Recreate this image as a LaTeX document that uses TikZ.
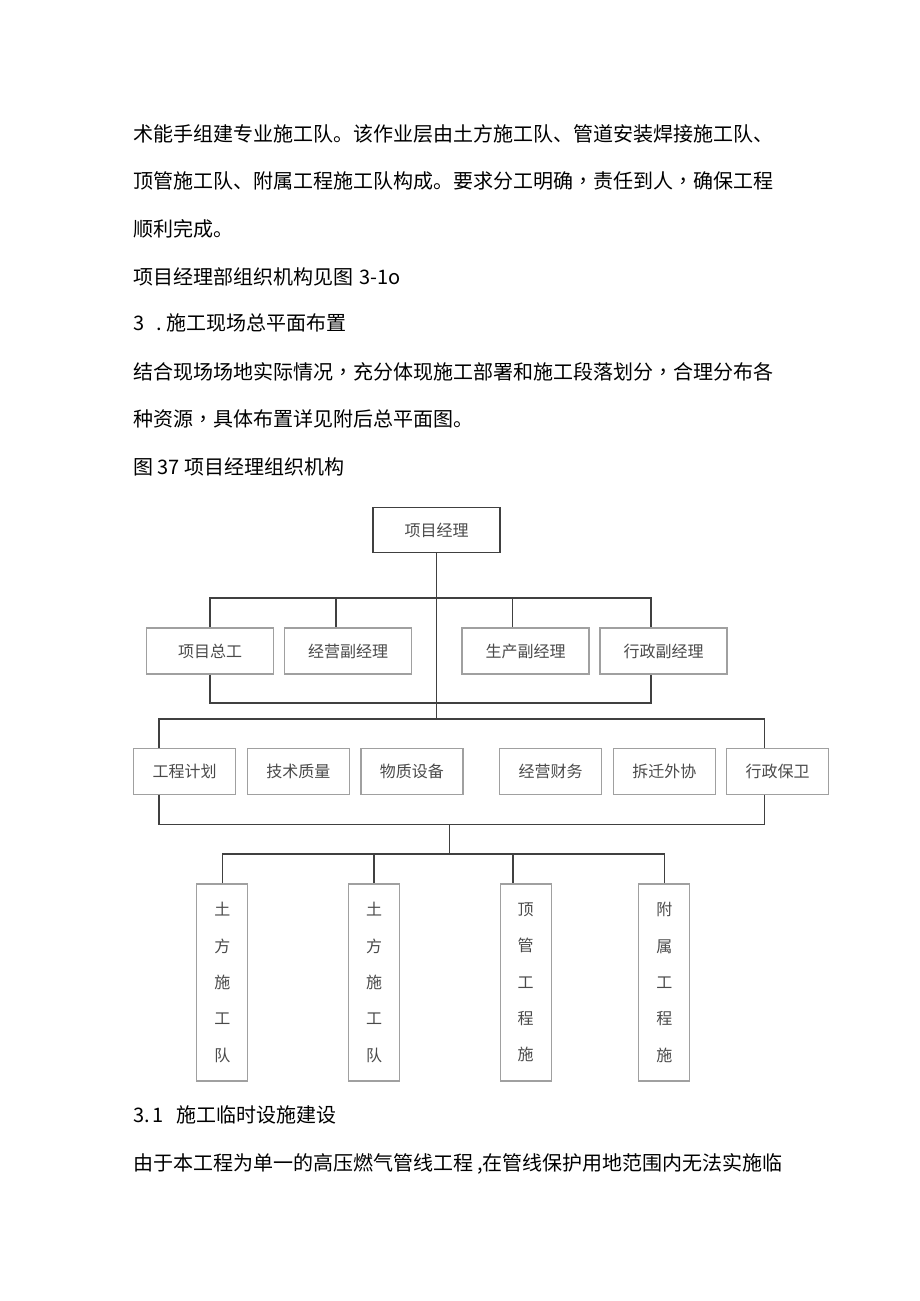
\documentclass[tikz,border=0pt]{standalone}
\usepackage{fontspec}
\newfontfamily\cjk{Noto Sans CJK SC}
\newfontfamily\tcf{Noto Sans CJK TC}
\newcommand{\cm}{{\tcf ，}}
\definecolor{linec}{HTML}{404040}
\definecolor{boxc}{HTML}{A0A0A0}
\definecolor{txtc}{HTML}{4A4A4A}
\begin{document}
\begin{tikzpicture}[x=1pt,y=-1pt,
  body/.style={anchor=base west, inner sep=0pt, font=\cjk\fontsize{20}{24}\selectfont, text=black},
  hbox/.style={draw=boxc, line width=1.2pt, inner sep=0pt, minimum height=46pt, font=\cjk\fontsize{16}{18}\selectfont, text=txtc},
  vbox/.style={draw=boxc, line width=1.2pt, inner sep=0pt, minimum width=51pt, minimum height=197pt, align=center, font=\cjk\fontsize{16}{36.3}\selectfont, text=txtc},
  conn/.style={draw=linec, line width=1.5pt},
]
\useasboundingbox (0,0) rectangle (920,1301);

% body text
\node[body] (l1) at (133,141.6) {术能手组建专业施工队。该作业层由土方施工队、管道安装焊接施工队、};
\node[body] (l2) at (133,188.6) {顶管施工队、附属工程施工队构成。要求分工明确\cm 责任到人\cm 确保工程};
\node[body] (l3) at (133,236.6) {顺利完成。};
\node[body] (l4) at (133,284.3) {项目经理部组织机构见图\hspace{6pt}3-1o};
\node[body] (l5) at (133,330.6) {3\hspace{12pt}.\hspace{5pt}施工现场总平面布置};
\node[body] (l6) at (133,379.3) {结合现场场地实际情况\cm 充分体现施工部署和施工段落划分\cm 合理分布各};
\node[body] (l7) at (133,426.6) {种资源\cm 具体布置详见附后总平面图。};
\node[body] (l8) at (133,474.3) {图 37 项目经理组织机构};
\node[body] (l9) at (133,1122.6) {3.\hspace{3pt}1\hspace{13pt}施工临时设施建设};
\node[body] (l10) at (133,1170.6) {由于本工程为单一的高压燃气管线工程\hspace{4pt},在管线保护用地范围内无法实施临};

% chart nodes
\node[hbox, draw=linec, line width=1.5pt, minimum width=127pt, minimum height=45pt] (pm) at (436.7,530) {项目经理};

\node[hbox, minimum width=127pt] (gz) at (210,651) {项目总工};
\node[hbox, minimum width=127pt] (jy) at (348,651) {经营副经理};
\node[hbox, minimum width=127pt] (sc) at (525.5,651) {生产副经理};
\node[hbox, minimum width=127pt] (xz) at (663.5,651) {行政副经理};

\node[hbox, minimum width=102pt] (gc) at (184.5,771.3) {工程计划};
\node[hbox, minimum width=102pt] (js) at (298.3,771.3) {技术质量};
\node[hbox, minimum width=102pt] (wz) at (411.9,771.3) {物质设备};
\node[hbox, minimum width=102pt] (cw) at (550.6,771.3) {经营财务};
\node[hbox, minimum width=102pt] (cq) at (664.3,771.3) {拆迁外协};
\node[hbox, minimum width=102pt] (bw) at (777.5,771.3) {行政保卫};

\node[vbox] (t1) at (222.3,982.5) {土\\方\\施\\工\\队};
\node[vbox] (t2) at (374,982.5) {土\\方\\施\\工\\队};
\node[vbox] (dg) at (525.7,982.5) {顶\\管\\工\\程\\施};
\node[vbox] (fs) at (664.3,982.5) {附\\属\\工\\程\\施};

% connectors
\coordinate (j2) at (436.7,719);
\coordinate (b1l) at (210,598);
\coordinate (b1r) at (651,598);
\coordinate (c12) at (336,598);
\coordinate (c13) at (512.5,598);
\coordinate (b1bl) at (210,703);
\coordinate (b1br) at (651,703);
\coordinate (b2l) at (159,719);
\coordinate (b2r) at (764.5,719);
\coordinate (b3l) at (159,824.3);
\coordinate (b3r) at (764.5,824.3);
\coordinate (j3) at (449.7,824.3);
\coordinate (j4) at (449.7,854);
\coordinate (b4l) at (222.3,854);
\coordinate (b4r) at (664.3,854);
\coordinate (c42) at (374,854);
\coordinate (c43) at (513,854);

\draw[conn] (pm.south) -- (j2);
\draw[conn] (gz.north) -- (b1l) -- (b1r) -- (b1r |- xz.north);
\draw[conn] (c12) -- (c12 |- jy.north);
\draw[conn] (c13) -- (c13 |- sc.north);
\draw[conn] (gz.south) -- (b1bl) -- (b1br) -- (b1br |- xz.south);

\draw[conn] (b2l |- gc.north) -- (b2l) -- (b2r) -- (b2r |- bw.north);
\draw[conn] (b2l |- gc.south) -- (b3l) -- (b3r) -- (b2r |- bw.south);
\draw[conn] (j3) -- (j4);
\draw[conn] (t1.north) -- (b4l) -- (b4r) -- (fs.north);
\draw[conn] (c42) -- (t2.north);
\draw[conn] (c43) -- (c43 |- dg.north);
\end{tikzpicture}
\end{document}
